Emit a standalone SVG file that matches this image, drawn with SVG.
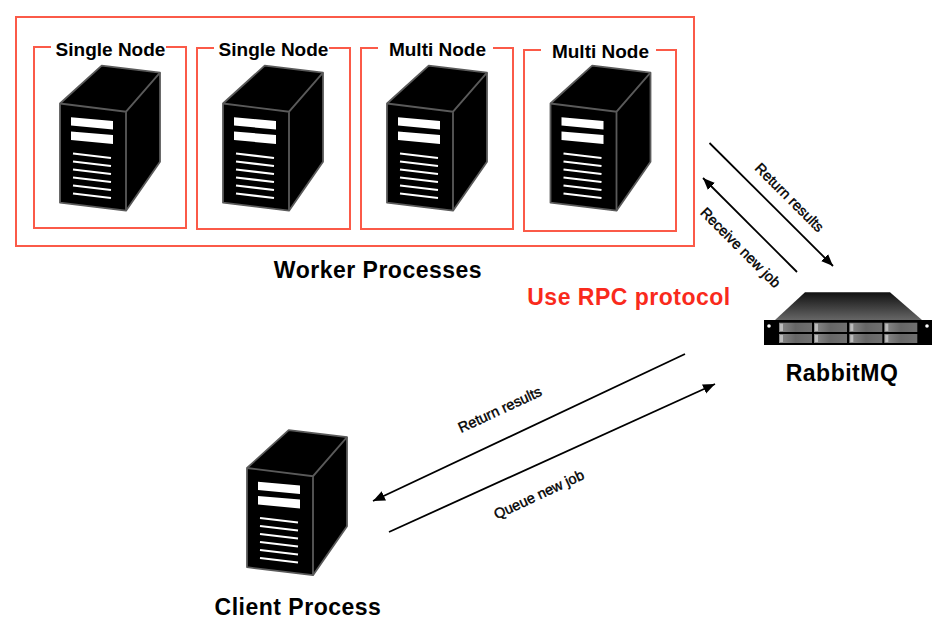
<svg xmlns="http://www.w3.org/2000/svg" width="943" height="639" viewBox="0 0 943 639">
<style>
text{font-family:"Liberation Sans",Arial,sans-serif;fill:#000}
.t{font-weight:bold;font-size:23px;text-anchor:middle;letter-spacing:.5px}
.n{font-weight:bold;font-size:19px;text-anchor:middle}
.s{font-size:14.500px;text-anchor:middle;stroke:#000;stroke-width:.4px}
.f{fill:none;stroke:#fb5a48;stroke-width:2}
.c{fill:none;stroke:#000;stroke-width:1.8;marker-end:url(#a)}
.d{fill:#767676;stroke:none}
</style>
<defs>
<marker id="a" markerUnits="userSpaceOnUse" markerWidth="14" markerHeight="12" refX="12" refY="5" orient="auto"><path d="M0 0L12 5L0 10Z" fill="#000"/></marker>
<linearGradient id="g" x1="0" y1="0" x2="0" y2="1"><stop offset="0" stop-color="#111"/><stop offset="1" stop-color="#666"/></linearGradient>
<linearGradient id="h" x1="0" y1="0" x2="1" y2="0"><stop offset="0" stop-color="#8a8a8a"/><stop offset=".5" stop-color="#666"/><stop offset="1" stop-color="#707070"/></linearGradient>
<g id="srv">
<path d="M60 103.500L101.700 65.700L160 72.700V161.700L126 210.700L60 202.700Z" fill="#000" stroke="#5a5a5a" stroke-width="1.800" stroke-linejoin="round"/>
<path d="M60 103.500L126 111.700L160 72.700M126 111.700V210.700" fill="none" stroke="#5a5a5a" stroke-width="1.800"/>
<path d="M71 117.300L113 121V129.500L71 125.500ZM71 131.500L113 135V144L71 140Z" fill="#fff"/>
<path d="M73 153.500L111 158M73 161.500L111 166M73 169.500L111 174M73 177.500L111 182M73 185.500L111 190M73 193.500L111 198" stroke="#fff" stroke-width="2.200" fill="none"/>
</g>
</defs>
<rect id="outer" class="f" x="16" y="17" width="678" height="229"/>
<g id="node1"><path class="f" d="M51 47H34V228H186V47H166"/><use href="#srv"/><text class="n" x="110.500" y="55.500">Single Node</text></g>
<g id="node2"><path class="f" d="M214 48H197V229H350V48H329"/><use href="#srv" x="163"/><text class="n" x="273.500" y="55.500">Single Node</text></g>
<g id="node3"><path class="f" d="M378 48H361V229H513V48H493"/><use href="#srv" x="327"/><text class="n" x="437.500" y="55.500">Multi Node</text></g>
<g id="node4"><path class="f" d="M541 50H524V231H676V50H656"/><use href="#srv" x="490.500"/><text class="n" x="600.500" y="57.500">Multi Node</text></g>
<g id="client"><use href="#srv" x="187" y="364.500"/><text class="t" x="298" y="615">Client Process</text></g>
<g id="rabbit">
<rect x="764" y="320" width="168" height="25" fill="#000"/>
<path d="M805 292.300H890L922 320H775Z" fill="url(#g)"/>
<circle cx="769" cy="326" r="1.800" fill="#fff"/><circle cx="927" cy="326" r="1.800" fill="#fff"/>
<g class="d">
<rect x="779" y="322.700" width="33" height="9.300" fill="url(#h)"/><rect x="814" y="322.700" width="33" height="9.300" fill="url(#h)"/><rect x="849.300" y="322.700" width="33" height="9.300" fill="url(#h)"/><rect x="884.300" y="322.700" width="33" height="9.300" fill="url(#h)"/>
<rect x="779" y="334" width="33" height="9" fill="url(#h)"/><rect x="814" y="334" width="33" height="9" fill="url(#h)"/><rect x="849.300" y="334" width="33" height="9" fill="url(#h)"/><rect x="884.300" y="334" width="33" height="9" fill="url(#h)"/>
</g>
<path d="M780 323.700h3v7.300h-3zM815 323.700h3v7.300h-3zM850.300 323.700h3v7.300h-3zM885.300 323.700h3v7.300h-3zM780 335h3v7h-3zM815 335h3v7h-3zM850.300 335h3v7h-3zM885.300 335h3v7h-3z" fill="#bbb"/>
<text class="t" x="842" y="381">RabbitMQ</text>
</g>
<g id="connectors">
<path class="c" d="M709.500 143L833 266"/>
<path class="c" d="M797 272L703 178"/>
<path class="c" d="M685 354L373 501"/>
<path class="c" d="M389 532L715 384"/>
</g>
<g id="labels">
<text class="t" x="378" y="278">Worker Processes</text>
<text x="629" y="305" style="font-weight:bold;font-size:23px;text-anchor:middle;fill:#f92a1c;letter-spacing:.5px">Use RPC protocol</text>
<text class="s" transform="translate(786 201) rotate(45)">Return results</text>
<text class="s" transform="translate(737 251) rotate(45)">Receive new job</text>
<text class="s" transform="translate(502 414) rotate(-25)">Return results</text>
<text class="s" transform="translate(541 499) rotate(-25)">Queue new job</text>
</g>
</svg>
